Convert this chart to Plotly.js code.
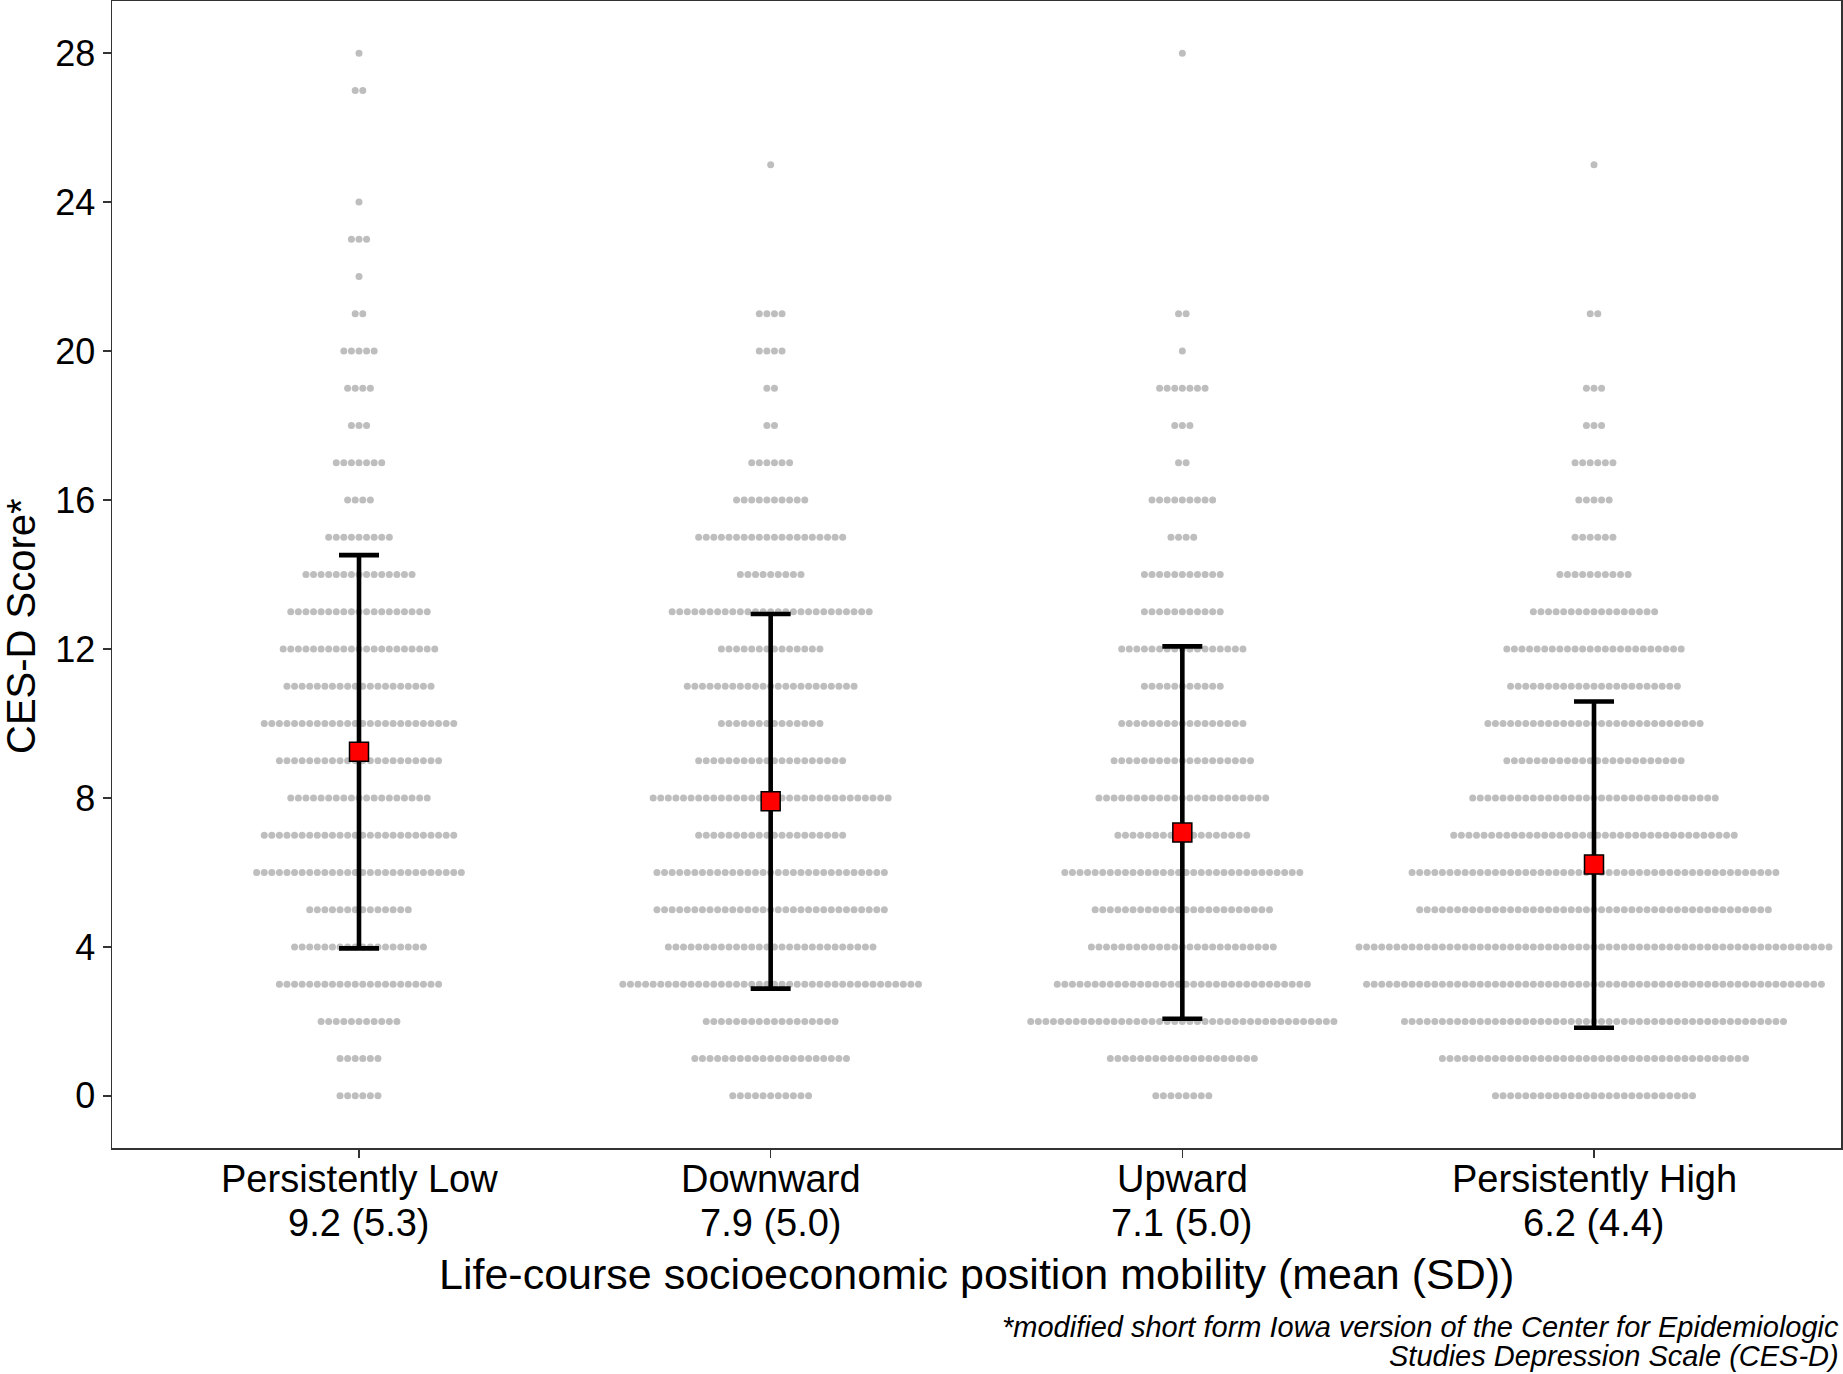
<!DOCTYPE html>
<html>
<head>
<meta charset="utf-8">
<script src="https://cdn.plot.ly/plotly-3.0.1.min.js"></script>
<style>html,body{margin:0;padding:0;background:#fff;}#chart{width:1843px;height:1374px;}</style>
</head>
<body>
<div id="chart"></div>
<script>
// ---- data ----
const categories = ['Persistently Low', 'Downward', 'Upward', 'Persistently High'];
const scores = [0,1,2,3,4,5,6,7,8,9,10,11,12,13,14,15,16,17,18,19,20,21,22,23,24,25,26,27,28];
// number of respondents at each CES-D score (index = score)
const countsLow      = [6,6,11,22,18,14,28,26,19,22,26,20,21,19,15,9,4,7,3,4,5,2,1,3,1,0,0,2,1];
const countsDownward = [11,21,18,40,28,31,31,20,32,20,14,23,14,27,9,20,10,6,2,2,4,4,0,0,0,1,0,0,0];
const countsUpward   = [8,20,41,34,25,24,32,18,23,19,17,11,17,11,11,4,9,2,3,7,1,2,0,0,0,0,0,0,1];
const countsHigh     = [27,41,51,61,63,47,49,38,33,24,29,23,24,17,10,6,5,6,3,3,0,2,0,0,0,1,0,0,0];
const meanVals = [9.24, 7.91, 7.07, 6.21];
const sdVals   = [5.28, 5.03, 5.00, 4.38];
const yTickVals = [0, 4, 8, 12, 16, 20, 24, 28];
const xTitle = 'Life-course socioeconomic position mobility (mean (SD))';
const yTitle = 'CES-D Score*';
const captionLines = ['*modified short form Iowa version of the Center for Epidemiologic',
                      'Studies Depression Scale (CES-D)'];

// ---- layout geometry ----
const W = 1843, H = 1374;
const mL = 112, mR = 2, mT = 1, mB = 226;
const plotW = W - mL - mR, plotH = H - mT - mB;
const xRange = [0.4, 4.6];
const pxPerUnitX = plotW / (xRange[1] - xRange[0]);
const dotStepPx = 7.58;
const dotStep = dotStepPx / pxPerUnitX;
const py = (pix) => (H - mB - pix) / plotH; // pixel-from-top -> paper y
const FONT = 'Liberation Sans, Arial, sans-serif';

const groups = [countsLow, countsDownward, countsUpward, countsHigh];
const dx = [], dy = [];
groups.forEach((cnts, g) => {
  cnts.forEach((n, si) => {
    for (let i = 0; i < n; i++) {
      dx.push(g + 1 + (i - (n - 1) / 2) * dotStep);
      dy.push(scores[si]);
    }
  });
});

const catPos = categories.map((c, i) => i + 1);

const traces = [
  {
    type: 'scatter', mode: 'markers', x: dx, y: dy,
    marker: {size: 7, color: '#bebebe', line: {width: 0}},
    hoverinfo: 'skip', showlegend: false
  },
  {
    type: 'scatter', mode: 'markers', x: catPos, y: meanVals,
    error_y: {type: 'data', array: sdVals, visible: true, color: '#000000', thickness: 4.6, width: 20},
    marker: {symbol: 'square', size: 19, color: '#ff0000', line: {color: '#000000', width: 1.5}},
    showlegend: false
  }
];

const annotations = [];
categories.forEach((c, i) => {
  annotations.push({x: i + 1, xref: 'x', y: py(1179), yref: 'paper', text: c, showarrow: false,
    xanchor: 'center', yanchor: 'middle', font: {size: 38, color: '#000', family: FONT}});
  annotations.push({x: i + 1, xref: 'x', y: py(1223), yref: 'paper',
    text: meanVals[i].toFixed(1) + ' (' + sdVals[i].toFixed(1) + ')', showarrow: false,
    xanchor: 'center', yanchor: 'middle', font: {size: 38, color: '#000', family: FONT}});
});
annotations.push({x: 0.5, xref: 'paper', y: py(1274), yref: 'paper', text: xTitle, showarrow: false,
  xanchor: 'center', yanchor: 'middle', font: {size: 43, color: '#000', family: FONT}});
annotations.push({x: (21 - mL) / plotW, xref: 'paper', y: py(626), yref: 'paper', text: yTitle, showarrow: false,
  textangle: -90, xanchor: 'center', yanchor: 'middle', font: {size: 40, color: '#000', family: FONT}});
annotations.push({x: 1, xref: 'paper', y: py(1327), yref: 'paper', text: '<i>' + captionLines[0] + '</i>', showarrow: false,
  xanchor: 'right', yanchor: 'middle', font: {size: 29, color: '#000', family: FONT}});
annotations.push({x: 1, xref: 'paper', y: py(1356), yref: 'paper', text: '<i>' + captionLines[1] + '</i>', showarrow: false,
  xanchor: 'right', yanchor: 'middle', font: {size: 29, color: '#000', family: FONT}});

const layout = {
  width: W, height: H,
  margin: {l: mL, r: mR, t: mT, b: mB, pad: 0},
  paper_bgcolor: '#ffffff', plot_bgcolor: '#ffffff',
  font: {family: FONT, color: '#000'},
  showlegend: false,
  xaxis: {
    range: xRange, tickvals: catPos, ticktext: categories.map(() => ''), showticklabels: false,
    ticks: 'outside', ticklen: 8, tickwidth: 1.5, tickcolor: '#333333',
    showgrid: false, zeroline: false, showline: true, mirror: true,
    linecolor: '#333333', linewidth: 1.5, fixedrange: true
  },
  yaxis: {
    range: [-1.4, 29.4], tickvals: yTickVals, ticktext: yTickVals.map(String),
    ticks: 'outside', ticklen: 8, tickwidth: 1.5, tickcolor: '#333333',
    tickfont: {size: 36, color: '#000'},
    showgrid: false, zeroline: false, showline: true, mirror: true,
    linecolor: '#333333', linewidth: 1.5, fixedrange: true
  },
  annotations: annotations
};

Plotly.newPlot('chart', traces, layout, {displayModeBar: false, staticPlot: true});
</script>
</body>
</html>
